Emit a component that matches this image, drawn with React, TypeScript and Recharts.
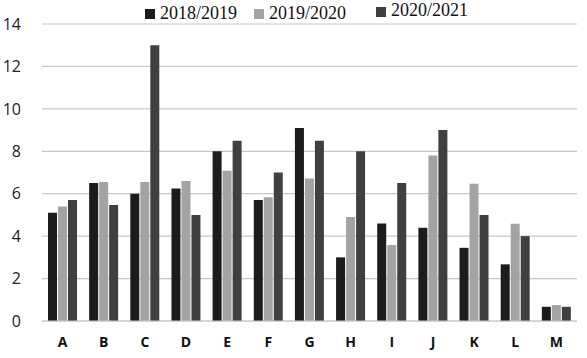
import React from 'react';
import { BarChart, Bar, XAxis, YAxis, CartesianGrid } from 'recharts';

const categories = ['A', 'B', 'C', 'D', 'E', 'F', 'G', 'H', 'I', 'J', 'K', 'L', 'M'];
const s2018 = [5.1, 6.5, 6.0, 6.25, 8.0, 5.7, 9.1, 3.0, 4.6, 4.4, 3.45, 2.67, 0.67];
const s2019 = [5.4, 6.55, 6.55, 6.6, 7.08, 5.83, 6.72, 4.9, 3.58, 7.8, 6.47, 4.58, 0.75];
const s2020 = [5.7, 5.47, 13.0, 5.0, 8.5, 7.0, 8.5, 8.0, 6.5, 9.0, 5.0, 4.0, 0.67];
const seriesNames = ['2018/2019', '2019/2020', '2020/2021'];
const seriesColors = ['#1c1c1c', '#a3a3a3', '#404040'];
const yTicks = [0, 2, 4, 6, 8, 10, 12, 14];

const data = categories.map((c, i) => ({ name: c, a: s2018[i], b: s2019[i], c: s2020[i] }));

const LegendOverlay = () => {
  const xs = [145, 254, 376];
  return (
    <div style={{ position: 'absolute', left: 0, top: 0, width: 587, height: 24, pointerEvents: 'none' }}>
      {seriesNames.map((n, i) => (
        <div key={n} style={{ position: 'absolute', left: xs[i], top: i === 2 ? 0 : 3, display: 'flex', alignItems: 'center', fontFamily: '"Liberation Serif", "DejaVu Serif", serif', fontSize: 18, lineHeight: '20px', color: '#111', whiteSpace: 'nowrap' }}>
          <span style={{ display: 'inline-block', width: 10, height: 10, background: seriesColors[i], marginRight: 5, marginTop: i === 2 ? 4 : 2 }} />
          {n}
        </div>
      ))}
    </div>
  );
};

export default function App() {
  return (
    <div style={{ position: 'absolute', left: 0, top: 0, width: 587, height: 358, background: '#fff' }}>
      <BarChart width={587} height={358} data={data} margin={{ top: 24, right: 10, left: 0, bottom: 0 }} barGap={1} barSize={9}>
        <CartesianGrid vertical={false} stroke="#c8c8c8" strokeWidth={1.2} />
        <XAxis dataKey="name" axisLine={{ stroke: '#c8c8c8' }} tickLine={false} height={37} tick={{ fontFamily: '"Open Sans", "Noto Sans", sans-serif', fontSize: 14, fontWeight: 700, fill: '#111' }} tickMargin={10} />
        <YAxis width={42} domain={[0, 14]} ticks={yTicks} axisLine={false} tickLine={false} tick={{ fontFamily: '"Open Sans", "Noto Sans", sans-serif', fontSize: 16, fill: '#222' }} tickMargin={15} interval={0} />
        <Bar dataKey="a" name={seriesNames[0]} fill={seriesColors[0]} isAnimationActive={false} />
        <Bar dataKey="b" name={seriesNames[1]} fill={seriesColors[1]} isAnimationActive={false} />
        <Bar dataKey="c" name={seriesNames[2]} fill={seriesColors[2]} isAnimationActive={false} />
      </BarChart>
      <LegendOverlay />
    </div>
  );
}
